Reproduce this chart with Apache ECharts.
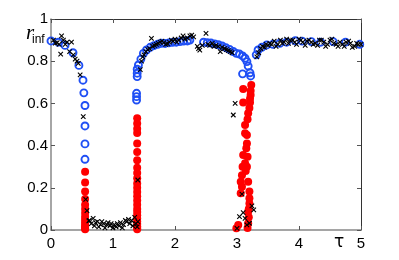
<!DOCTYPE html>
<html><head><meta charset="utf-8">
<script src="https://cdn.jsdelivr.net/npm/echarts@6/dist/echarts.min.js"></script>
<style>html,body{margin:0;padding:0;background:#fff}#c{width:399px;height:260px}</style>
</head><body><div id="c"></div>
<script>
// Blue open circles (stable branch)
var blueData = [
 [0,0.896],[0.118,0.89],[0.226,0.875],[0.355,0.84],[0.45,0.78],[0.516,0.71],[0.53,0.65],[0.548,0.59],
 [0.548,0.493],[0.548,0.408],[0.548,0.335],
 [1.38,0.616],[1.38,0.632],[1.38,0.648],[1.39,0.727],[1.39,0.743],[1.39,0.762],[1.41,0.782],[1.45,0.81],
 [1.49,0.837],[1.54,0.853],[1.6,0.866],[1.66,0.874],[1.72,0.88],[1.78,0.885],[1.84,0.884],[1.9,0.887],
 [1.96,0.889],[2.02,0.89],[2.08,0.893],[2.14,0.895],[2.2,0.896],[2.24,0.9],
 [2.46,0.89],[2.52,0.888],[2.58,0.886],[2.64,0.882],[2.7,0.878],[2.76,0.872],[2.82,0.864],[2.88,0.856],
 [2.94,0.846],[2.99,0.837],[3.04,0.834],[3.09,0.825],[3.13,0.814],[3.16,0.798],[3.18,0.777],
 [3.09,0.74],[3.21,0.745],[3.22,0.73],
 [3.31,0.83],[3.34,0.853],[3.4,0.866],[3.48,0.877],[3.58,0.88],[3.69,0.885],[3.8,0.89],[3.94,0.897],
 [4.05,0.895],[4.2,0.893],[4.35,0.89],[4.55,0.893],[4.75,0.89],[4.98,0.88]
];
// Red filled circles
var redData = [
 [0.55,0.276],[0.55,0.225],[0.55,0.182],[0.55,0.147],[0.55,0.12],[0.55,0.10],[0.55,0.08],[0.55,0.063],
 [0.55,0.048],[0.55,0.035],[0.55,0.024],[0.55,0.015],[0.55,0.008],[0.55,0.003],
 [1.39,0.53],[1.39,0.505],[1.39,0.48],[1.39,0.46],[1.39,0.41],[1.39,0.37],[1.39,0.33],[1.39,0.295],
 [1.39,0.27],[1.39,0.245],[1.39,0.22],[1.39,0.2],[1.39,0.18],[1.39,0.16],[1.39,0.14],[1.39,0.12],
 [1.39,0.1],[1.39,0.085],[1.39,0.07],[1.39,0.055],[1.39,0.04],[1.39,0.028],[1.39,0.018],[1.39,0.01],[1.39,0.004],
 [3.23,0.687],[3.1,0.668],[3.22,0.66],[3.22,0.64],[3.21,0.622],[3.1,0.604],[3.21,0.604],[3.2,0.578],
 [3.18,0.553],[3.17,0.525],[3.13,0.498],[3.13,0.458],[3.16,0.45],[3.16,0.41],[3.15,0.387],[3.1,0.355],
 [3.17,0.347],[3.13,0.316],[3.16,0.3],[3.14,0.28],[3.09,0.3],[3.08,0.26],[3.06,0.229],[3.08,0.205],
 [3.06,0.174],[3.18,0.229],[3.2,0.182],[3.2,0.15],[3.2,0.126],[3.19,0.1],[3.18,0.087],[3.19,0.06],
 [3.18,0.032],[3.17,0.01],[2.99,0.008],[3.02,0.024]
];
// Black crosses (simulation)
var crossData = [
 [0.04,0.9],[0.07,0.886],[0.1,0.888],[0.13,0.88],[0.156,0.834],[0.17,0.92],[0.2,0.9],[0.23,0.88],[0.26,0.89],
 [0.3,0.845],[0.33,0.89],[0.36,0.83],[0.39,0.81],[0.42,0.8],[0.44,0.79],[0.47,0.735],[0.52,0.537],
 [0.56,0.145],[0.58,0.092],[0.61,0.043],
 [0.62,0.045],[0.65,0.03],[0.68,0.055],[0.70,0.02],[0.72,0.035],[0.75,0.04],[0.77,0.015],[0.80,0.025],
 [0.82,0.04],[0.85,0.03],[0.87,0.01],[0.90,0.025],[0.92,0.035],[0.95,0.02],[0.97,0.03],[1.00,0.01],
 [1.02,0.025],[1.05,0.015],[1.07,0.03],[1.10,0.02],[1.12,0.035],[1.15,0.01],[1.17,0.025],[1.20,0.045],
 [1.22,0.04],[1.25,0.05],[1.27,0.03],[1.30,0.045],[1.32,0.02],[1.35,0.06],[1.37,0.03],[1.39,0.015],[1.40,0.04],
 [1.40,0.237],
 [1.44,0.76],[1.46,0.8],[1.48,0.82],[1.5,0.83],[1.53,0.845],[1.56,0.855],[1.59,0.86],[1.62,0.908],[1.64,0.87],
 [1.67,0.875],[1.7,0.88],[1.73,0.885],[1.76,0.89],[1.79,0.895],[1.82,0.888],[1.85,0.88],[1.88,0.882],
 [1.91,0.89],[1.94,0.9],[1.97,0.895],[2.0,0.905],[2.03,0.89],[2.06,0.9],[2.1,0.91],[2.13,0.92],[2.16,0.905],
 [2.2,0.91],[2.24,0.92],[2.27,0.924],[2.3,0.915],[2.36,0.87],[2.38,0.86],[2.4,0.853],[2.44,0.875],[2.5,0.932],
 [2.53,0.88],[2.56,0.875],[2.6,0.885],[2.63,0.87],[2.66,0.875],[2.7,0.87],[2.73,0.845],[2.76,0.865],[2.8,0.86],
 [2.83,0.855],[2.86,0.85],[2.89,0.845],[2.92,0.84],[2.97,0.6],[2.94,0.545],
 [3.08,0.17],[3.1,0.082],[3.04,0.063],[3.13,0.055],[3.16,0.024],[3.0,0.008],[3.24,0.114],[3.27,0.095],[3.2,0.032],
 [3.32,0.821],[3.35,0.84],[3.38,0.86],[3.41,0.87],[3.44,0.865],[3.47,0.88],[3.5,0.875],[3.53,0.885],[3.56,0.88],
 [3.6,0.895],[3.63,0.87],[3.66,0.88],[3.7,0.9],[3.73,0.885],[3.76,0.89],[3.8,0.905],[3.83,0.885],[3.86,0.9],
 [3.9,0.9],[3.93,0.89],[3.96,0.88],[4.0,0.905],[4.03,0.9],[4.06,0.89],[4.1,0.875],[4.13,0.895],[4.16,0.9],
 [4.2,0.89],[4.23,0.88],[4.26,0.885],[4.3,0.875],[4.33,0.9],[4.36,0.9],[4.4,0.89],[4.43,0.87],[4.46,0.88],
 [4.5,0.9],[4.53,0.905],[4.56,0.885],[4.6,0.88],[4.63,0.87],[4.66,0.89],[4.7,0.88],[4.73,0.87],[4.76,0.89],
 [4.8,0.895],[4.83,0.885],[4.86,0.865],[4.9,0.87],[4.93,0.885],[4.96,0.88],[5.0,0.88]
];
var xTicks = [0,1,2,3,4,5];
var yTicks = [0,0.2,0.4,0.6,0.8,1];

var chart = echarts.init(document.getElementById('c'));
var font = 'Liberation Sans, Arial, sans-serif';
function baseX(pos, show){
  return {type:'value', position:pos, min:0, max:5, interval:1,
    axisLine:{show:true, onZero:false, lineStyle:{color: show?'#888':'#333', width: show?1.5:1}},
    axisTick:{show:true, inside:true, length:4, lineStyle:{color:'#555'}},
    axisLabel:{show:show, margin:6, color:'#000', fontSize:15, fontFamily:font,
      showMinLabel:true, showMaxLabel:true, hideOverlap:false,
      formatter:function(v){ return String(v); }},
    splitLine:{show:false}};
}
function baseY(pos, show){
  return {type:'value', position:pos, min:0, max:1, interval:0.2,
    axisLine:{show:true, onZero:false, lineStyle:{color: show?'#888':'#333', width: show?1.5:1}},
    axisTick:{show:true, inside:true, length:4, lineStyle:{color:'#555'}},
    axisLabel:{show:show, margin:3, color:'#000', fontSize:15, fontFamily:font,
      showMinLabel:true, showMaxLabel:true, hideOverlap:false,
      formatter:function(v){ return String(Math.round(v*10)/10); }},
    splitLine:{show:false}};
}
chart.setOption({
  animation:false,
  grid:{left:51, right:38, top:19, bottom:30},
  xAxis:[baseX('bottom', true), baseX('top', false)],
  yAxis:[baseY('left', true), baseY('right', false)],
  graphic:[
    {type:'text', left:26, top:23, style:{text:'r', font:'italic 21px "Liberation Serif", serif', fill:'#000'}},
    {type:'text', left:32, top:34, style:{text:'inf', font:'12px "Liberation Sans", sans-serif', fill:'#000'}},
    {type:'text', left:334, top:234, style:{text:'τ', font:'17px "DejaVu Sans", sans-serif', fill:'#000'}}
  ],
  series:[
    {type:'scatter', data:blueData, symbol:'circle', symbolSize:7,
     itemStyle:{color:'rgba(255,255,255,0)', borderColor:'#1f4ff5', borderWidth:1.9, opacity:1}, z:2},
    {type:'scatter', data:redData, symbol:'circle', symbolSize:8,
     itemStyle:{color:'#ff0000', opacity:1}, z:3},
    {type:'scatter', data:crossData, symbol:'path://M0,0L10,10M10,0L0,10', symbolSize:4.5,
     itemStyle:{color:'rgba(0,0,0,0)', borderColor:'#000', borderWidth:1.1, opacity:1}, z:4}
  ]
});
</script></body></html>
